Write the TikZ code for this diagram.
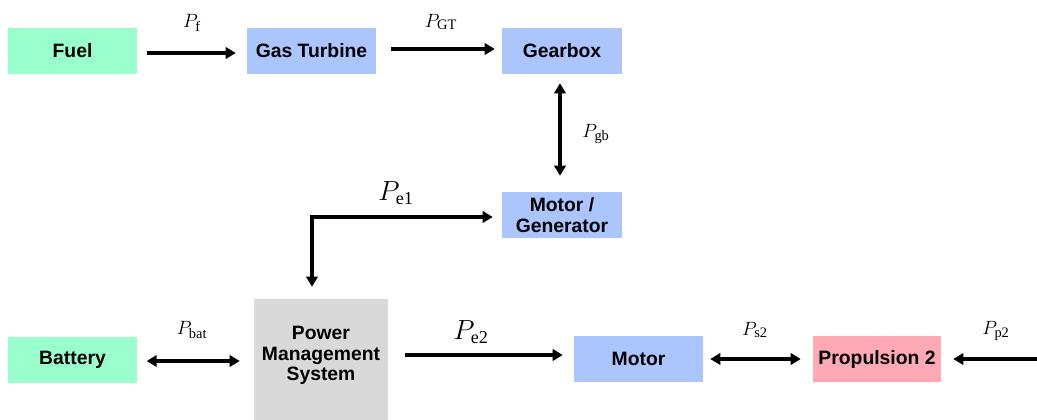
\documentclass[tikz,border=0pt]{standalone}
\usepackage{fontspec}
\setmainfont{Liberation Serif}
\setsansfont{Liberation Sans}
\usetikzlibrary{arrows.meta,calc}
\definecolor{mint}{HTML}{99FFCC}
\definecolor{lblue}{HTML}{ABC6FF}
\definecolor{lgray}{HTML}{D9D9D9}
\definecolor{lpink}{HTML}{FFA9B5}
\tikzset{
  blk/.style={draw=none, minimum width=129*0.75pt, minimum height=46*0.75pt, inner sep=0pt, align=center,
    font=\fontsize{14.5}{15.5}\selectfont\sffamily\bfseries},
  arr/.style={line width=3pt, -{Triangle[length=7.5pt,width=8.5pt]}},
  darr/.style={line width=3pt, {Triangle[length=7.5pt,width=8.5pt]}-{Triangle[length=7.5pt,width=8.5pt]}},
  lbl/.style={font=\fontsize{15.5}{16}\selectfont, inner sep=0pt},
  lblbig/.style={font=\fontsize{19.5}{20}\selectfont, inner sep=0pt}
}
\begin{document}
\begin{tikzpicture}[x=0.75pt,y=-0.75pt]
\useasboundingbox (0,0) rectangle (1037,420);
\node[blk, fill=mint] (fuel) at (72.5,51) {Fuel};
\node[blk, fill=lblue] (gt) at (311.5,51) {Gas Turbine};
\node[blk, fill=lblue, minimum width=120*0.75pt] (gb) at (562,51) {Gearbox};
\node[blk, fill=lblue, minimum width=120*0.75pt] (mg) at (562,215) {Motor /\\Generator};
\node[blk, fill=lgray, minimum width=134*0.75pt, minimum height=121*0.75pt] (pms) at (321,359.5) {Power\\Management\\System\\[-6.5pt]\mbox{}};
\node[blk, fill=mint] (bat) at (72.5,360) {Battery};
\node[blk, fill=lblue] (mot) at (638.5,359) {Motor};
\node[blk, fill=lpink, minimum width=128*0.75pt] (prop) at (877,359) {Propulsion 2};
\coordinate (rend) at (1040,359);
\coordinate (corner) at (312,217);

\draw[arr] ($(fuel.east)+(10,2)$) -- ($(gt.west)+(-11,2)$);
\draw[arr] ($(gt.east)+(15,-2)$) -- ($(gb.west)+(-7,-2)$);
\draw[darr] ($(gb.south)+(-2,9)$) -- ($(mg.north)+(-2,-16)$);
\draw[darr] ($(pms.north)+(-9,-12)$) -- (corner) -- ($(mg.west)+(-9,2)$);
\draw[darr] ($(bat.west)+(139,1)$) -- ($(pms.west)+(-14,1.5)$);
\draw[arr] ($(pms.east)+(17,-4.5)$) -- ($(mot.west)+(-11,-4)$);
\draw[darr] ($(mot.east)+(7,0)$) -- ($(prop.west)+(-12,0)$);
\draw[arr] (rend) -- ($(prop.east)+(12,0)$);

\node[lbl] (lf) at (192,23) {$P_{\mathrm{f}}$};
\node[lbl] (lgt) at (441,22) {$P_{\mathrm{GT}}$};
\node[lbl] (lgb) at (596,134) {$P_{\mathrm{gb}}$};
\node[lblbig] (le1) at (396,193) {$P_{\mathrm{e1}}$};
\node[lbl] (lbat) at (192,330) {$P_{\mathrm{bat}}$};
\node[lblbig] (le2) at (471,332) {$P_{\mathrm{e2}}$};
\node[lbl] (ls2) at (755,330) {$P_{\mathrm{s2}}$};
\node[lbl] (lp2) at (996,331) {$P_{\mathrm{p2}}$};
\end{tikzpicture}
\end{document}
